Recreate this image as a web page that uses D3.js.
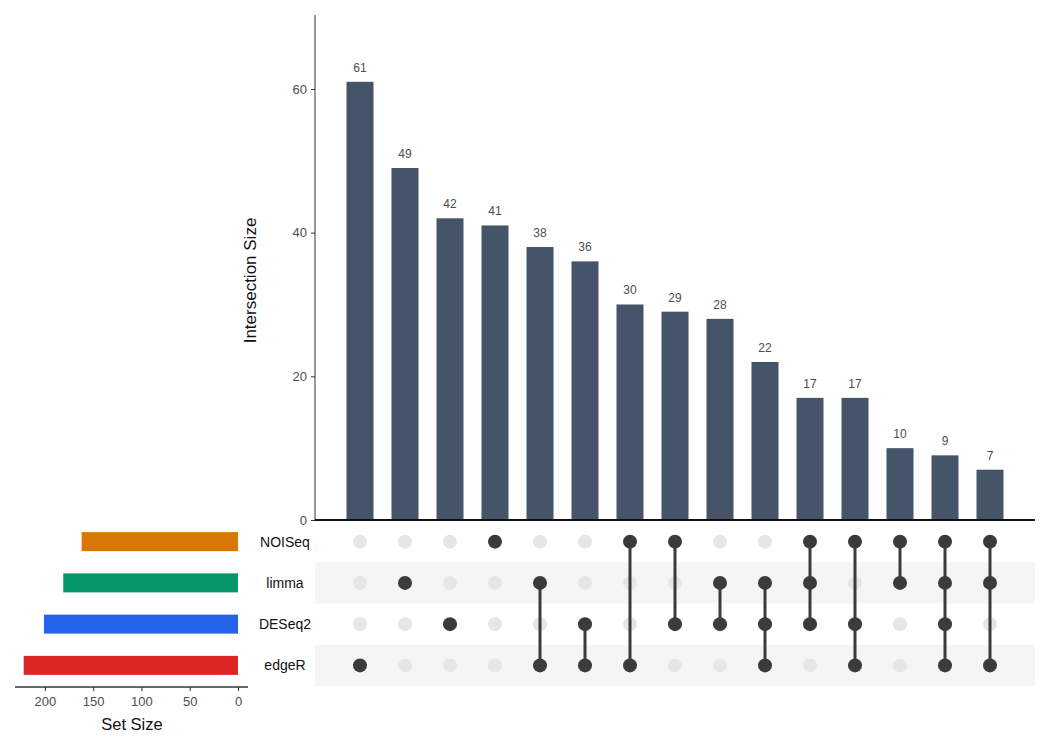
<!DOCTYPE html>
<html>
<head>
<meta charset="utf-8">
<script src="https://cdn.jsdelivr.net/npm/d3@7"></script>
<style>
  body { margin: 0; background: #fff; }
  text { font-family: "Liberation Sans", Arial, sans-serif; }
</style>
</head>
<body>
<div id="chart"></div>
<script>
// sets, top to bottom in the matrix
const setNames = ['NOISeq', 'limma', 'DESeq2', 'edgeR'];
const setSizes = [162, 181, 201, 222];
const setColors = ['#d97706', '#059669', '#2563eb', '#dc2626'];

// intersections, in plotted order
const interSizes = [61, 49, 42, 41, 38, 36, 30, 29, 28, 22, 17, 17, 10, 9, 7];
const interMembers = [
  ['edgeR'], ['limma'], ['DESeq2'], ['NOISeq'],
  ['limma', 'edgeR'], ['DESeq2', 'edgeR'], ['NOISeq', 'edgeR'], ['NOISeq', 'DESeq2'],
  ['limma', 'DESeq2'], ['limma', 'DESeq2', 'edgeR'], ['NOISeq', 'limma', 'DESeq2'],
  ['NOISeq', 'DESeq2', 'edgeR'], ['NOISeq', 'limma'],
  ['NOISeq', 'limma', 'DESeq2', 'edgeR'], ['NOISeq', 'limma', 'edgeR']
];
const interTicks = [0, 20, 40, 60];
const setTicks = [0, 50, 100, 150, 200];

const W = 1050, H = 750;
const svg = d3.select('#chart').append('svg').attr('width', W).attr('height', H);

const panelL = 315, panelR = 1035;
const barTop = 15, barBottom = 520;
const barColor = '#455468';
const textGray = '#4d4d4d';

// x for intersection columns
const xb = d3.scaleBand().domain(d3.range(interSizes.length)).range([337.5, 1012.5]);
const y = d3.scaleLinear().domain([0, 70.3]).range([barBottom, barTop]);

// rows of the matrix
const rowY = d3.scaleBand().domain(setNames).range([521, 686]);
const rowC = s => rowY(s) + rowY.bandwidth() / 2;

// stripes
setNames.forEach((s, i) => {
  if (i % 2 === 1) {
    svg.append('rect')
      .attr('x', panelL).attr('y', rowY(s))
      .attr('width', panelR - panelL).attr('height', rowY.bandwidth())
      .attr('fill', '#f5f5f5');
  }
});

// intersection bars
const bw = xb.bandwidth() * 0.6;
svg.append('g').selectAll('rect')
  .data(interSizes)
  .join('rect')
  .attr('x', (d, i) => xb(i) + (xb.bandwidth() - bw) / 2)
  .attr('y', d => y(d))
  .attr('width', bw)
  .attr('height', d => barBottom - y(d))
  .attr('fill', barColor);

svg.append('g').selectAll('text')
  .data(interSizes)
  .join('text')
  .attr('x', (d, i) => xb(i) + xb.bandwidth() / 2)
  .attr('y', d => y(d) - 10)
  .attr('text-anchor', 'middle')
  .attr('font-size', 12)
  .attr('fill', textGray)
  .text(d => d);

// y axis
const yAxis = svg.append('g')
  .attr('transform', `translate(${panelL},0)`)
  .call(d3.axisLeft(y).tickValues(interTicks).tickSize(4).tickPadding(4));
yAxis.select('.domain').attr('stroke', '#333').attr('d', `M0,${barTop}V${barBottom}`);
yAxis.selectAll('.tick line').attr('stroke', '#333');
yAxis.selectAll('.tick text').attr('font-size', 13).attr('fill', textGray)
  .style('font-family', '"Liberation Sans", Arial, sans-serif');

svg.append('line')
  .attr('x1', panelL).attr('x2', panelR)
  .attr('y1', barBottom).attr('y2', barBottom)
  .attr('stroke', '#111').attr('stroke-width', 2);

svg.append('text')
  .attr('transform', `translate(256,${(barTop + barBottom) / 2 + 13}) rotate(-90)`)
  .attr('text-anchor', 'middle')
  .attr('font-size', 17)
  .attr('fill', '#111')
  .text('Intersection Size');

// matrix dots and connectors
const mat = svg.append('g');
interMembers.forEach((mem, i) => {
  const cx = xb(i) + xb.bandwidth() / 2;
  setNames.forEach(s => {
    if (!mem.includes(s)) {
      mat.append('circle').attr('cx', cx).attr('cy', rowC(s)).attr('r', 7).attr('fill', '#e6e6e6');
    }
  });
  if (mem.length > 1) {
    const ys = mem.map(rowC);
    mat.append('line')
      .attr('x1', cx).attr('x2', cx)
      .attr('y1', d3.min(ys)).attr('y2', d3.max(ys))
      .attr('stroke', '#3b3b3b').attr('stroke-width', 3);
  }
  mem.forEach(s => {
    mat.append('circle').attr('cx', cx).attr('cy', rowC(s)).attr('r', 7).attr('fill', '#3b3b3b');
  });
});

// set labels
svg.append('g').selectAll('text')
  .data(setNames)
  .join('text')
  .attr('x', 285)
  .attr('y', s => rowC(s) + 5)
  .attr('text-anchor', 'middle')
  .attr('font-size', 14)
  .attr('fill', '#111')
  .text(s => s);

// set size bars
const xs = d3.scaleLinear().domain([0, 231]).range([238, 15]);
svg.append('g').selectAll('rect')
  .data(setSizes)
  .join('rect')
  .attr('x', d => xs(d))
  .attr('y', (d, i) => rowC(setNames[i]) - 9.5)
  .attr('width', d => xs(0) - xs(d))
  .attr('height', 19)
  .attr('fill', (d, i) => setColors[i]);

const sAxis = svg.append('g')
  .attr('transform', 'translate(0,687)')
  .call(d3.axisBottom(xs).tickValues(setTicks).tickSize(4).tickPadding(6));
sAxis.select('.domain').attr('stroke', '#333').attr('stroke-width', 1.5).attr('d', 'M15,0H248');
sAxis.selectAll('.tick line').attr('stroke', '#333');
sAxis.selectAll('.tick text').attr('font-size', 13).attr('fill', textGray)
  .style('font-family', '"Liberation Sans", Arial, sans-serif');

svg.append('text')
  .attr('x', 132).attr('y', 730)
  .attr('text-anchor', 'middle')
  .attr('font-size', 16.5)
  .attr('fill', '#111')
  .text('Set Size');
</script>
</body>
</html>
